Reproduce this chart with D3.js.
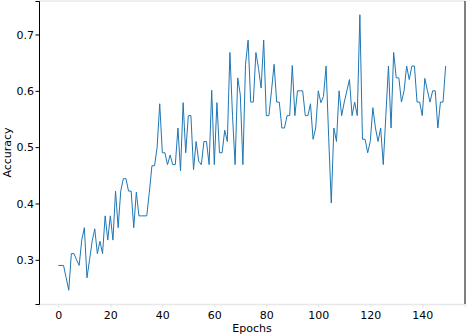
<!DOCTYPE html>
<html>
<head>
<meta charset="utf-8">
<script src="https://cdn.jsdelivr.net/npm/d3@7"></script>
<style>
  body { margin: 0; background: #fff; }
  svg text { font-family: "DejaVu Sans", sans-serif; fill: #000; }
</style>
</head>
<body>
<svg id="chart" width="466" height="336"></svg>
<script>
// accuracy per epoch
const accuracy = [
  0.29, 0.29, 0.29, 0.268, 0.246, 0.311, 0.311, 0.30, 0.29, 0.335,
  0.357, 0.268, 0.30, 0.333, 0.355, 0.311, 0.333, 0.311, 0.378, 0.335,
  0.378, 0.335, 0.422, 0.357, 0.422, 0.444, 0.444, 0.422, 0.422, 0.357,
  0.42, 0.378, 0.378, 0.378, 0.378, 0.42, 0.467, 0.467, 0.50, 0.577,
  0.49, 0.49, 0.469, 0.486, 0.469, 0.469, 0.534, 0.458, 0.579, 0.49,
  0.556, 0.556, 0.46, 0.51, 0.475, 0.469, 0.51, 0.51, 0.469, 0.601,
  0.469, 0.579, 0.49, 0.49, 0.53, 0.51, 0.668, 0.556, 0.469, 0.623,
  0.593, 0.469, 0.647, 0.69, 0.58, 0.58, 0.668, 0.64, 0.605, 0.69,
  0.556, 0.556, 0.60, 0.647, 0.58, 0.58, 0.534, 0.534, 0.556, 0.556,
  0.645, 0.556, 0.60, 0.60, 0.60, 0.556, 0.556, 0.577, 0.514, 0.534,
  0.60, 0.579, 0.59, 0.644, 0.517, 0.401, 0.534, 0.51, 0.60, 0.556,
  0.58, 0.60, 0.62, 0.556, 0.58, 0.556, 0.735, 0.514, 0.514, 0.49,
  0.51, 0.57, 0.534, 0.51, 0.534, 0.469, 0.556, 0.644, 0.534, 0.668,
  0.623, 0.623, 0.58, 0.60, 0.644, 0.62, 0.644, 0.644, 0.58, 0.58,
  0.556, 0.622, 0.60, 0.58, 0.60, 0.60, 0.534, 0.58, 0.58, 0.644
];
const epochs = accuracy.map((d, i) => i);
const xTicks = [0, 20, 40, 60, 80, 100, 120, 140];
const yTicks = [0.3, 0.4, 0.5, 0.6, 0.7];

const svg = d3.select("#chart");
const box = { left: 39, right: 465, top: 1, bottom: 304 };

// matplotlib style 5% margins
const xMin = d3.min(epochs), xMax = d3.max(epochs);
const xPad = (xMax - xMin) * 0.05;
const [yMin, yMax] = d3.extent(accuracy);
const yPad = (yMax - yMin) * 0.05;

const x = d3.scaleLinear()
    .domain([xMin - xPad, xMax + xPad])
    .range([box.left, box.right]);

const y = d3.scaleLinear()
    .domain([yMin - yPad, yMax + yPad])
    .range([box.bottom, box.top]);

// spines: top/bottom light grey, left/right black
svg.append("line")
    .attr("x1", box.left).attr("x2", box.right)
    .attr("y1", box.top).attr("y2", box.top)
    .attr("stroke", "#e8e8e8").attr("stroke-width", 1.5);

// Axes
const xAxis = svg.append("g")
    .attr("transform", `translate(0,${box.bottom})`)
    .call(d3.axisBottom(x).tickValues(xTicks).tickFormat(d3.format("d")).tickSizeOuter(0).tickSize(3.5));
xAxis.select(".domain").attr("stroke", "#e8e8e8").attr("stroke-width", 1.5);
xAxis.selectAll(".tick line").attr("stroke", "#e0e0e0");
xAxis.selectAll(".tick text")
    .attr("y", 7)
    .attr("font-size", 11)
    .attr("font-family", "DejaVu Sans")
    .attr("fill", "#000");

const yAxis = svg.append("g")
    .attr("transform", `translate(${box.left},0)`)
    .call(d3.axisLeft(y).tickValues(yTicks).tickFormat(d3.format(".1f")).tickSizeOuter(0).tickSize(3.5));
yAxis.select(".domain").attr("stroke", "#000").attr("stroke-width", 1);
yAxis.selectAll(".tick line").attr("stroke", "#000");
yAxis.selectAll(".tick text")
    .attr("x", -5)
    .attr("font-size", 11)
    .attr("font-family", "DejaVu Sans")
    .attr("fill", "#000");

svg.append("line")
    .attr("x1", box.right).attr("x2", box.right)
    .attr("y1", box.top).attr("y2", box.bottom)
    .attr("stroke", "#000").attr("stroke-width", 1);

// Line
const line = d3.line()
    .x((d, i) => x(epochs[i]))
    .y(d => y(d));

svg.append("path")
    .datum(accuracy)
    .attr("fill", "none")
    .attr("stroke", "#1f77b4")
    .attr("stroke-width", 1)
    .attr("stroke-linejoin", "round")
    .attr("d", line);

// Axis labels
svg.append("text")
    .attr("x", (box.left + box.right) / 2)
    .attr("y", 332)
    .attr("text-anchor", "middle")
    .attr("font-size", 11)
    .text("Epochs");

svg.append("text")
    .attr("transform", "rotate(-90)")
    .attr("x", -(box.top + box.bottom) / 2)
    .attr("y", 11)
    .attr("text-anchor", "middle")
    .attr("font-size", 11)
    .text("Accuracy");
</script>
</body>
</html>
